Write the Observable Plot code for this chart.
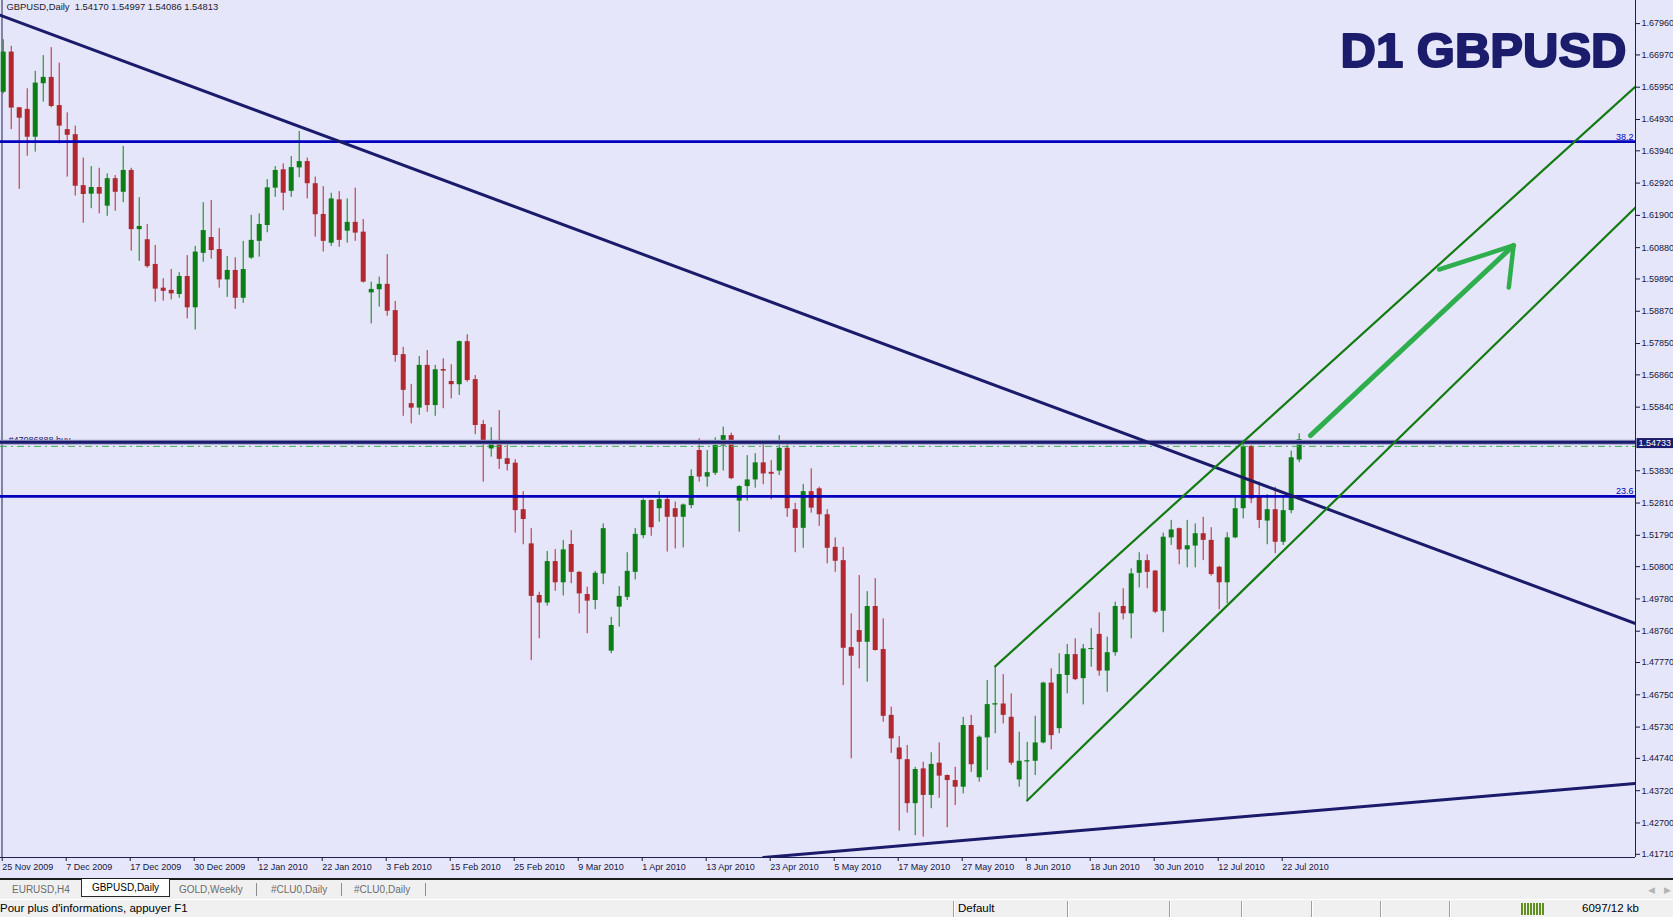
<!DOCTYPE html>
<html>
<head>
<meta charset="utf-8">
<script src="https://cdn.jsdelivr.net/npm/d3@7"></script>
<script src="https://cdn.jsdelivr.net/npm/@observablehq/plot@0.6"></script>
<style>
  html, body { margin: 0; padding: 0; width: 1673px; height: 917px; overflow: hidden; background: #f0f0f0; font-family: "Liberation Sans", Arial, sans-serif; }
  #chart { height: 878px; background: #e6e6fa; }
  #chart svg { display: block; }
  #chart text { white-space: pre; }
  #tabs { position: relative; height: 19px; border-top: 2px solid #1c1c1c; background: #f0f0f0; font-size: 10px; color: #6c6c6c; }
  #tabs span { position: absolute; top: 4px; white-space: nowrap; }
  #tabs .active { top: -1px; left: 81px; width: 87px; height: 17px; line-height: 17px; text-align: center; background: #fff; color: #000; border: 1px solid #2a2a2a; border-top: none; }
  #tabs .sep { top: 3px; width: 0; height: 13px; border-left: 1px solid #8c8c8c; }
  #tabs .nav { color: #b4b4b4; font-size: 9px; top: 5px; }
  #status { position: relative; height: 17px; border-top: 1px solid #ffffff; background: #f0f0f0; font-size: 11.5px; color: #000; }
  #status span { position: absolute; top: 2px; white-space: nowrap; }
  #status .sep { top: 1px; width: 0; height: 16px; border-left: 1px solid #a0a0a0; border-right: 1px solid #fff; }
  #status .meter { top: 3px; left: 1521px; width: 24px; height: 12px; background: repeating-linear-gradient(90deg, #5f8f1c 0 2px, transparent 2px 3px); }
</style>
</head>
<body>
<div id="chart"></div>
<div id="tabs">
  <span style="left:12px">EURUSD,H4</span>
  <span class="active">GBPUSD,Daily</span>
  <span style="left:179px">GOLD,Weekly</span>
  <span class="sep" style="left:256px"></span>
  <span style="left:271px">#CLU0,Daily</span>
  <span class="sep" style="left:341px"></span>
  <span style="left:354px">#CLU0,Daily</span>
  <span class="sep" style="left:425px"></span>
  <span class="nav" style="left:1648px">&#9664;</span>
  <span class="nav" style="left:1664px">&#9654;</span>
</div>
<div id="status">
  <span style="left:0">Pour plus d'informations, appuyer F1</span>
  <span class="sep" style="left:953px"></span>
  <span style="left:958px">Default</span>
  <span class="sep" style="left:1067px"></span>
  <span class="sep" style="left:1169px"></span>
  <span class="sep" style="left:1241px"></span>
  <span class="sep" style="left:1311px"></span>
  <span class="sep" style="left:1380px"></span>
  <span class="sep" style="left:1449px"></span>
  <span class="meter"></span>
  <span style="left:1582px">6097/12 kb</span>
</div>
<script>
// GBPUSD daily candles, 25 Nov 2009 .. 23 Jul 2010, one row per bar: [open, high, low, close]
const ohlc = [
  [1.6579, 1.6745, 1.6574, 1.6706], [1.6706, 1.6724, 1.6461, 1.6529], [1.6530, 1.6531, 1.6272, 1.6497],
  [1.6525, 1.6590, 1.6377, 1.6437], [1.6437, 1.6645, 1.6390, 1.6608], [1.6606, 1.6695, 1.6548, 1.6626],
  [1.6626, 1.6720, 1.6530, 1.6534], [1.6537, 1.6671, 1.6416, 1.6472], [1.6461, 1.6514, 1.6311, 1.6443],
  [1.6445, 1.6472, 1.6251, 1.6282], [1.6284, 1.6371, 1.6165, 1.6256], [1.6257, 1.6344, 1.6211, 1.6278],
  [1.6278, 1.6339, 1.6195, 1.6257], [1.6219, 1.6321, 1.6187, 1.6306], [1.6306, 1.6316, 1.6203, 1.6263],
  [1.6263, 1.6408, 1.6230, 1.6332], [1.6332, 1.6339, 1.6077, 1.6145], [1.6145, 1.6246, 1.6045, 1.6155],
  [1.6113, 1.6161, 1.6023, 1.6028], [1.6035, 1.6095, 1.5916, 1.5957], [1.5960, 1.5990, 1.5919, 1.5950],
  [1.5953, 1.6019, 1.5923, 1.5942], [1.5940, 1.6009, 1.5928, 1.5997], [1.5997, 1.6063, 1.5863, 1.5898],
  [1.5898, 1.6092, 1.5828, 1.6074], [1.6070, 1.6230, 1.6042, 1.6142], [1.6120, 1.6237, 1.6052, 1.6079],
  [1.6082, 1.6148, 1.5960, 1.5986], [1.5986, 1.6060, 1.5931, 1.6016], [1.6016, 1.6056, 1.5893, 1.5928],
  [1.5928, 1.6108, 1.5912, 1.6019], [1.6055, 1.6190, 1.6051, 1.6111], [1.6108, 1.6195, 1.6058, 1.6161],
  [1.6158, 1.6303, 1.6135, 1.6277], [1.6276, 1.6344, 1.6247, 1.6332], [1.6334, 1.6353, 1.6205, 1.6260],
  [1.6266, 1.6376, 1.6247, 1.6341], [1.6340, 1.6455, 1.6309, 1.6360], [1.6360, 1.6371, 1.6242, 1.6290],
  [1.6290, 1.6311, 1.6121, 1.6192], [1.6193, 1.6281, 1.6074, 1.6108], [1.6102, 1.6260, 1.6092, 1.6242],
  [1.6239, 1.6265, 1.6089, 1.6111], [1.6140, 1.6242, 1.6102, 1.6168], [1.6168, 1.6276, 1.6108, 1.6134],
  [1.6137, 1.6177, 1.5976, 1.5979], [1.5945, 1.5979, 1.5847, 1.5956], [1.5955, 1.5995, 1.5900, 1.5972],
  [1.5972, 1.6066, 1.5871, 1.5887], [1.5889, 1.5918, 1.5726, 1.5747], [1.5750, 1.5773, 1.5555, 1.5637],
  [1.5595, 1.5656, 1.5531, 1.5581], [1.5581, 1.5744, 1.5558, 1.5716], [1.5716, 1.5763, 1.5568, 1.5589],
  [1.5589, 1.5716, 1.5555, 1.5702], [1.5703, 1.5737, 1.5579, 1.5698], [1.5665, 1.5718, 1.5610, 1.5655],
  [1.5655, 1.5793, 1.5621, 1.5791], [1.5791, 1.5813, 1.5663, 1.5668], [1.5671, 1.5684, 1.5497, 1.5526],
  [1.5529, 1.5542, 1.5347, 1.5470], [1.5452, 1.5519, 1.5426, 1.5479], [1.5479, 1.5573, 1.5387, 1.5419],
  [1.5421, 1.5475, 1.5382, 1.5403], [1.5407, 1.5418, 1.5186, 1.5257], [1.5260, 1.5317, 1.5149, 1.5229],
  [1.5152, 1.5200, 1.4783, 1.4986], [1.4989, 1.4999, 1.4852, 1.4965], [1.4965, 1.5128, 1.4955, 1.5096],
  [1.5096, 1.5134, 1.5002, 1.5029], [1.5029, 1.5163, 1.4987, 1.5133], [1.5150, 1.5194, 1.5026, 1.5062],
  [1.5062, 1.5065, 1.4931, 1.4994], [1.4992, 1.5015, 1.4868, 1.4971], [1.4973, 1.5065, 1.4944, 1.5059],
  [1.5057, 1.5215, 1.5023, 1.5200], [1.4813, 1.4920, 1.4805, 1.4894], [1.4952, 1.5017, 1.4889, 1.4986],
  [1.4983, 1.5124, 1.4973, 1.5065], [1.5062, 1.5200, 1.5038, 1.5182], [1.5178, 1.5294, 1.5168, 1.5289],
  [1.5289, 1.5291, 1.5176, 1.5203], [1.5263, 1.5317, 1.5220, 1.5292], [1.5292, 1.5305, 1.5126, 1.5236],
  [1.5263, 1.5284, 1.5136, 1.5236], [1.5236, 1.5278, 1.5139, 1.5275], [1.5273, 1.5386, 1.5263, 1.5365],
  [1.5447, 1.5484, 1.5347, 1.5363], [1.5363, 1.5447, 1.5331, 1.5377], [1.5375, 1.5487, 1.5368, 1.5463],
  [1.5461, 1.5521, 1.5382, 1.5494], [1.5494, 1.5502, 1.5355, 1.5358], [1.5287, 1.5336, 1.5189, 1.5333],
  [1.5333, 1.5431, 1.5287, 1.5354], [1.5354, 1.5437, 1.5328, 1.5408], [1.5408, 1.5468, 1.5339, 1.5373],
  [1.5378, 1.5415, 1.5291, 1.5372], [1.5382, 1.5494, 1.5368, 1.5454], [1.5454, 1.5479, 1.5236, 1.5263],
  [1.5260, 1.5280, 1.5124, 1.5201], [1.5201, 1.5340, 1.5138, 1.5317], [1.5317, 1.5389, 1.5249, 1.5265],
  [1.5326, 1.5331, 1.5207, 1.5244], [1.5244, 1.5260, 1.5089, 1.5138], [1.5141, 1.5171, 1.5062, 1.5097],
  [1.5099, 1.5141, 1.4704, 1.4822], [1.4824, 1.4931, 1.4473, 1.4797], [1.4878, 1.5052, 1.4757, 1.4841],
  [1.4841, 1.5001, 1.4715, 1.4954], [1.4954, 1.5042, 1.4813, 1.4815], [1.4818, 1.4915, 1.4588, 1.4607],
  [1.4610, 1.4636, 1.4490, 1.4536], [1.4507, 1.4543, 1.4244, 1.4470], [1.4470, 1.4515, 1.4301, 1.4331],
  [1.4331, 1.4446, 1.4230, 1.4439], [1.4441, 1.4462, 1.4225, 1.4357], [1.4357, 1.4492, 1.4315, 1.4455],
  [1.4459, 1.4523, 1.4348, 1.4418], [1.4420, 1.4422, 1.4255, 1.4404], [1.4404, 1.4446, 1.4325, 1.4383],
  [1.4383, 1.4604, 1.4362, 1.4578], [1.4578, 1.4610, 1.4430, 1.4454], [1.4413, 1.4545, 1.4399, 1.4541],
  [1.4539, 1.4720, 1.4436, 1.4644], [1.4644, 1.4765, 1.4552, 1.4646], [1.4646, 1.4739, 1.4583, 1.4610],
  [1.4604, 1.4678, 1.4452, 1.4459], [1.4406, 1.4557, 1.4383, 1.4465], [1.4464, 1.4525, 1.4341, 1.4466],
  [1.4465, 1.4607, 1.4420, 1.4523], [1.4523, 1.4715, 1.4520, 1.4712], [1.4712, 1.4757, 1.4501, 1.4546],
  [1.4568, 1.4805, 1.4552, 1.4739], [1.4736, 1.4834, 1.4678, 1.4802], [1.4802, 1.4852, 1.4720, 1.4723],
  [1.4726, 1.4834, 1.4643, 1.4820], [1.4819, 1.4884, 1.4762, 1.4821], [1.4866, 1.4934, 1.4734, 1.4750],
  [1.4750, 1.4857, 1.4683, 1.4808], [1.4808, 1.4968, 1.4797, 1.4954], [1.4954, 1.5010, 1.4912, 1.4931],
  [1.4931, 1.5073, 1.4852, 1.5057], [1.5059, 1.5124, 1.5013, 1.5099], [1.5099, 1.5117, 1.5010, 1.5062],
  [1.5066, 1.5068, 1.4931, 1.4936], [1.4939, 1.5186, 1.4871, 1.5173], [1.5171, 1.5226, 1.5147, 1.5196],
  [1.5200, 1.5202, 1.5086, 1.5133], [1.5133, 1.5226, 1.5076, 1.5146], [1.5145, 1.5215, 1.5076, 1.5184],
  [1.5184, 1.5236, 1.5099, 1.5163], [1.5163, 1.5203, 1.5050, 1.5055], [1.5078, 1.5081, 1.4944, 1.5029],
  [1.5029, 1.5187, 1.4963, 1.5171], [1.5171, 1.5298, 1.5168, 1.5263], [1.5263, 1.5479, 1.5231, 1.5460],
  [1.5460, 1.5462, 1.5279, 1.5294], [1.5302, 1.5347, 1.5200, 1.5226], [1.5224, 1.5308, 1.5149, 1.5260],
  [1.5260, 1.5331, 1.5121, 1.5157], [1.5157, 1.5305, 1.5147, 1.5257], [1.5257, 1.5445, 1.5247, 1.5424],
  [1.54170, 1.54997, 1.54086, 1.54813]
];

// time axis: bar index -> label, as printed by the terminal
const dateTicks = [0, 8, 16, 24, 32, 40, 48, 56, 64, 72, 80, 88, 96, 104, 112, 120, 128, 136, 144, 152, 160];
const dateLabels = [
  "25 Nov 2009", "7 Dec 2009", "17 Dec 2009", "30 Dec 2009", "12 Jan 2010", "22 Jan 2010", "3 Feb 2010",
  "15 Feb 2010", "25 Feb 2010", "9 Mar 2010", "1 Apr 2010", "13 Apr 2010", "23 Apr 2010", "5 May 2010",
  "17 May 2010", "27 May 2010", "8 Jun 2010", "18 Jun 2010", "30 Jun 2010", "12 Jul 2010", "22 Jul 2010"
];
const priceTicks = [
  1.6796, 1.6697, 1.6595, 1.6493, 1.6394, 1.6292, 1.6190, 1.6088, 1.5989, 1.5887, 1.5785, 1.5686, 1.5584,
  1.5383, 1.5281, 1.5179, 1.5080, 1.4978, 1.4876, 1.4777, 1.4675, 1.4573, 1.4474, 1.4372, 1.4270, 1.4171
];

// drawn objects: [bar index, price] endpoints
const fibLevels = [{ level: "38.2", price: 1.6423 }, { level: "23.6", price: 1.5302 }];
const orderPrice = 1.54733;
const orderLabel = "#47086888 buy";
const askPrice = 1.5460;
const downTrend = [[-0.34, 1.6822], [204.04, 1.4900]];
const supportTrend = [[95.04, 1.4161], [204.04, 1.4395]];
const channelTop = [[124, 1.4765], [204.04, 1.6597]];
const channelBottom = [[128, 1.4341], [204.04, 1.6215]];
const arrowShaft = [[163.4, 1.5494], [188.8, 1.6095]];
const arrowHead = [[179.5, 1.6019], [188.8, 1.6095], [188.2, 1.5962]];

const symbol = "GBPUSD,Daily";
const title = "D1 GBPUSD";

(function () {
  const navy = "#1b1b6b";
  const frameColor = "#1e1e55";
  const fibBlue = "#0000bc";
  const upColor = "#0b7f14";
  const downColor = "#b3282c";
  const channelColor = "#127c12";
  const arrowColor = "#2fae4e";

  const bars = ohlc.map(([open, high, low, close], i) => ({ i, open, high, low, close, col: close >= open ? upColor : downColor }));
  const last = bars[bars.length - 1];
  const header = `${symbol}  ${[last.open, last.high, last.low, last.close].map((v) => v.toFixed(5)).join(" ")}`;
  const dateOf = new Map(dateTicks.map((t, k) => [t, dateLabels[k]]));
  const xDomain = [-0.34, 204.04];
  const yDomain = [1.41609, 1.6869];
  const px = (p) => p[0];
  const py = (p) => p[1];

  const fig = Plot.plot({
    width: 1673,
    height: 878,
    marginTop: 0,
    marginLeft: 0,
    marginRight: 38,
    marginBottom: 21,
    style: { background: "#e6e6fa", color: "#16163e", fontFamily: "'Liberation Sans', Arial, sans-serif", fontSize: "9px" },
    x: { domain: xDomain, label: null },
    y: { domain: yDomain, label: null },
    color: { type: "identity" },
    marks: [
      Plot.axisY({ anchor: "right", ticks: priceTicks, tickFormat: (d) => d.toFixed(5), tickSize: 4, tickPadding: 2, label: null, fontSize: 9 }),
      Plot.axisX({ anchor: "bottom", ticks: dateTicks, tickFormat: (d) => dateOf.get(d), tickSize: 4, tickPadding: 2, textAnchor: "start", dx: -1, label: null, fontSize: 9 }),
      Plot.ruleX([xDomain[0]], { stroke: frameColor, dx: 1.5 }),
      Plot.ruleX([xDomain[1]], { stroke: frameColor }),
      Plot.ruleY([yDomain[0]], { stroke: frameColor }),

      // candles
      Plot.ruleX(bars, { x: "i", y1: "low", y2: "high", stroke: "col", strokeWidth: 1 }),
      Plot.ruleX(bars, { x: "i", y1: "open", y2: "close", stroke: "col", strokeWidth: 5 }),
      Plot.ruleY(bars.filter((d) => Math.abs(d.close - d.open) < 0.0004), { y: "close", x1: (d) => d.i - 0.3, x2: (d) => d.i + 0.3, stroke: "col" }),

      // fibonacci levels and order lines
      Plot.ruleY(fibLevels, { y: "price", stroke: fibBlue, strokeWidth: 2.6 }),
      Plot.text(fibLevels, { y: "price", text: "level", frameAnchor: "right", textAnchor: "end", lineAnchor: "bottom", dx: -2, dy: -2, fill: fibBlue, fontSize: 9 }),
      Plot.text([orderLabel], { y: () => orderPrice, text: (d) => d, frameAnchor: "left", textAnchor: "start", lineAnchor: "bottom", dx: 8, dy: 1, fill: navy, fontSize: 9 }),
      Plot.ruleY([askPrice], { stroke: "#3fb24c", strokeWidth: 1, strokeDasharray: "7,4,2,4" }),
      Plot.ruleY([orderPrice], { stroke: "#9c9ccc", strokeWidth: 5 }),
      Plot.ruleY([orderPrice], { stroke: navy, strokeWidth: 3 }),

      // trend lines, channel, arrow
      Plot.line(downTrend, { x: px, y: py, stroke: navy, strokeWidth: 3, clip: true }),
      Plot.line(supportTrend, { x: px, y: py, stroke: navy, strokeWidth: 3, clip: true }),
      Plot.line(channelTop, { x: px, y: py, stroke: channelColor, strokeWidth: 2.2, clip: true }),
      Plot.line(channelBottom, { x: px, y: py, stroke: channelColor, strokeWidth: 2.2, clip: true }),
      Plot.line(arrowShaft, { x: px, y: py, stroke: arrowColor, strokeWidth: 5, strokeLinecap: "round" }),
      Plot.line(arrowHead, { x: px, y: py, stroke: arrowColor, strokeWidth: 4.5, strokeLinecap: "round", strokeLinejoin: "round" }),

      // labels
      Plot.text([header], { text: (d) => d, frameAnchor: "top-left", textAnchor: "start", lineAnchor: "top", dx: 6, dy: 3, fontSize: 9.4, fill: "#1a1a2e" }),
      Plot.text([title], { text: (d) => d, frameAnchor: "top-right", textAnchor: "end", lineAnchor: "top", dx: -9, dy: 32, fontSize: 49, fontWeight: "bold", fill: "#1c1c6c", stroke: "#1c1c6c", strokeWidth: 2, letterSpacing: "0.5px" }),
      Plot.text([orderPrice], { y: (d) => d, text: (d) => d.toFixed(5), frameAnchor: "right", textAnchor: "start", dx: 3, dy: 1, fontSize: 9, fill: "#ffffff" })
    ]
  });

  document.getElementById("chart").replaceChildren(fig);

  // dark box behind the order price on the price axis
  const tag = d3.select(fig).selectAll("text").filter(function () { return this.textContent === orderPrice.toFixed(5); });
  if (!tag.empty()) {
    const node = tag.node();
    const bb = node.getBBox();
    d3.select(node.parentNode)
      .insert("rect", () => node)
      .attr("transform", node.getAttribute("transform"))
      .attr("x", bb.x - 2)
      .attr("y", bb.y)
      .attr("width", 40)
      .attr("height", bb.height)
      .attr("fill", navy);
  }
})();
</script>
</body>
</html>
